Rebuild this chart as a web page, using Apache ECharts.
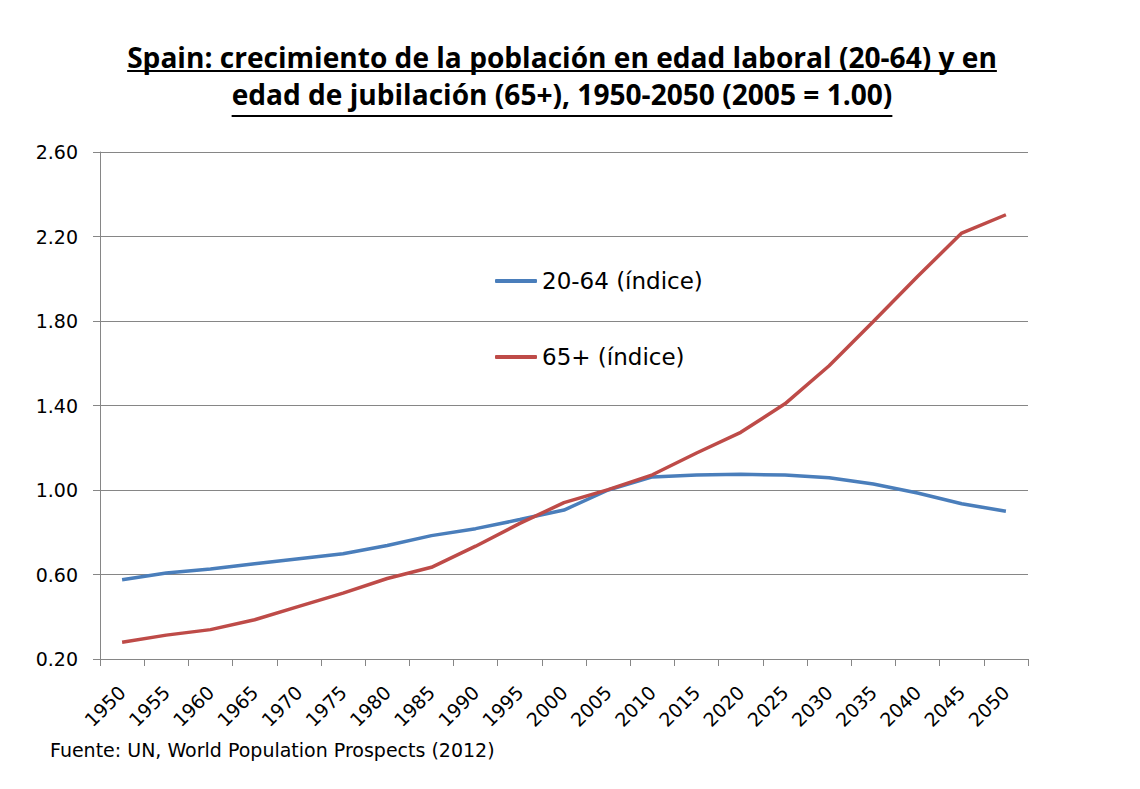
<!DOCTYPE html>
<html>
<head>
<meta charset="utf-8">
<script src="https://cdn.jsdelivr.net/npm/echarts@6/dist/echarts.min.js"></script>
<style>
html,body{margin:0;padding:0;background:#fff;}
#chart{width:1140px;height:789px;}
</style>
</head>
<body>
<div id="chart"></div>
<script>
const titleLines = [
  'Spain: crecimiento de la población en edad laboral (20-64) y en',
  'edad de jubilación (65+), 1950-2050 (2005 = 1.00)'
];
const sourceText = 'Fuente: UN, World Population Prospects (2012)';
const years = ['1950','1955','1960','1965','1970','1975','1980','1985','1990','1995','2000',
               '2005','2010','2015','2020','2025','2030','2035','2040','2045','2050'];
const workingAgeName = '20-64 (índice)';
const workingAge = [0.575,0.607,0.626,0.651,0.675,0.698,0.737,0.784,0.817,0.860,0.905,
                    1.000,1.062,1.071,1.074,1.071,1.058,1.028,0.986,0.935,0.899];
const elderlyName = '65+ (índice)';
const elderly = [0.279,0.313,0.339,0.386,0.449,0.512,0.581,0.634,0.734,0.842,0.940,
                 1.002,1.072,1.175,1.273,1.408,1.588,1.798,2.011,2.216,2.303];
const yTicks = [0.20,0.60,1.00,1.40,1.80,2.20,2.60];

const titleFamily = 'Open Sans';
const titleCenterX = 562;
const titleTargetWidth = 870;
const titleTops = [43, 80];
const underlineYs = [71, 116];

const ctx = document.createElement('canvas').getContext('2d');
ctx.font = 'bold 27px "' + titleFamily + '"';
const titleSize = Math.round(27 * titleTargetWidth / ctx.measureText(titleLines[0]).width * 10) / 10;
ctx.font = 'bold ' + titleSize + 'px "' + titleFamily + '"';
const underlines = titleLines.map((t, i) => {
  const w = ctx.measureText(t).width;
  return {
    type: 'line',
    silent: true,
    shape: {x1: titleCenterX - w / 2, y1: underlineYs[i], x2: titleCenterX + w / 2, y2: underlineYs[i]},
    style: {stroke: '#000', lineWidth: 2}
  };
});

const chart = echarts.init(document.getElementById('chart'), null, {renderer: 'svg'});
const gridColor = '#868686';
const titleStyle = {fontFamily: titleFamily, fontWeight: 'bold', fontSize: titleSize, color: '#000'};
chart.setOption({
  animation: false,
  backgroundColor: '#fff',
  title: [
    {text: titleLines[0], left: titleCenterX, textAlign: 'center', top: titleTops[0], padding: 0, textStyle: titleStyle},
    {text: titleLines[1], left: titleCenterX, textAlign: 'center', top: titleTops[1], padding: 0, textStyle: titleStyle},
    {text: sourceText, left: 50, top: 740, padding: 0,
     textStyle: {fontFamily: 'DejaVu Sans', fontWeight: 'normal', fontSize: 19, color: '#000'}}
  ],
  graphic: underlines,
  legend: {
    orient: 'vertical',
    left: 495,
    top: 269,
    itemGap: 52,
    itemWidth: 42,
    itemHeight: 4,
    icon: 'roundRect',
    padding: 0,
    textStyle: {fontFamily: 'DejaVu Sans', fontSize: 23, color: '#000', lineHeight: 24},
    data: [workingAgeName, elderlyName]
  },
  grid: {left: 100, right: 112, top: 152, bottom: 130, containLabel: false},
  xAxis: {
    type: 'category',
    data: years,
    boundaryGap: true,
    axisLine: {show: true, lineStyle: {color: gridColor, width: 1}},
    axisTick: {show: true, length: 7, interval: 0, lineStyle: {color: gridColor}},
    axisLabel: {interval: 0, rotate: 45, fontFamily: 'DejaVu Sans', fontSize: 19, color: '#000', margin: 30},
    splitLine: {show: false}
  },
  yAxis: {
    type: 'value',
    min: yTicks[0],
    max: yTicks[yTicks.length - 1],
    interval: 0.4,
    axisLine: {show: true, lineStyle: {color: gridColor, width: 1}},
    axisTick: {show: true, length: 7, lineStyle: {color: gridColor}},
    axisLabel: {fontFamily: 'DejaVu Sans', fontSize: 19, color: '#000', margin: 22,
                formatter: v => v.toFixed(2)},
    splitLine: {show: true, lineStyle: {color: gridColor, width: 1}}
  },
  series: [
    {name: workingAgeName, type: 'line', data: workingAge, symbol: 'none', smooth: false,
     lineStyle: {color: '#4A7EBB', width: 3.5}, itemStyle: {color: '#4A7EBB'}},
    {name: elderlyName, type: 'line', data: elderly, symbol: 'none', smooth: false,
     lineStyle: {color: '#BE4B48', width: 3.5}, itemStyle: {color: '#BE4B48'}}
  ]
});
</script>
</body>
</html>
